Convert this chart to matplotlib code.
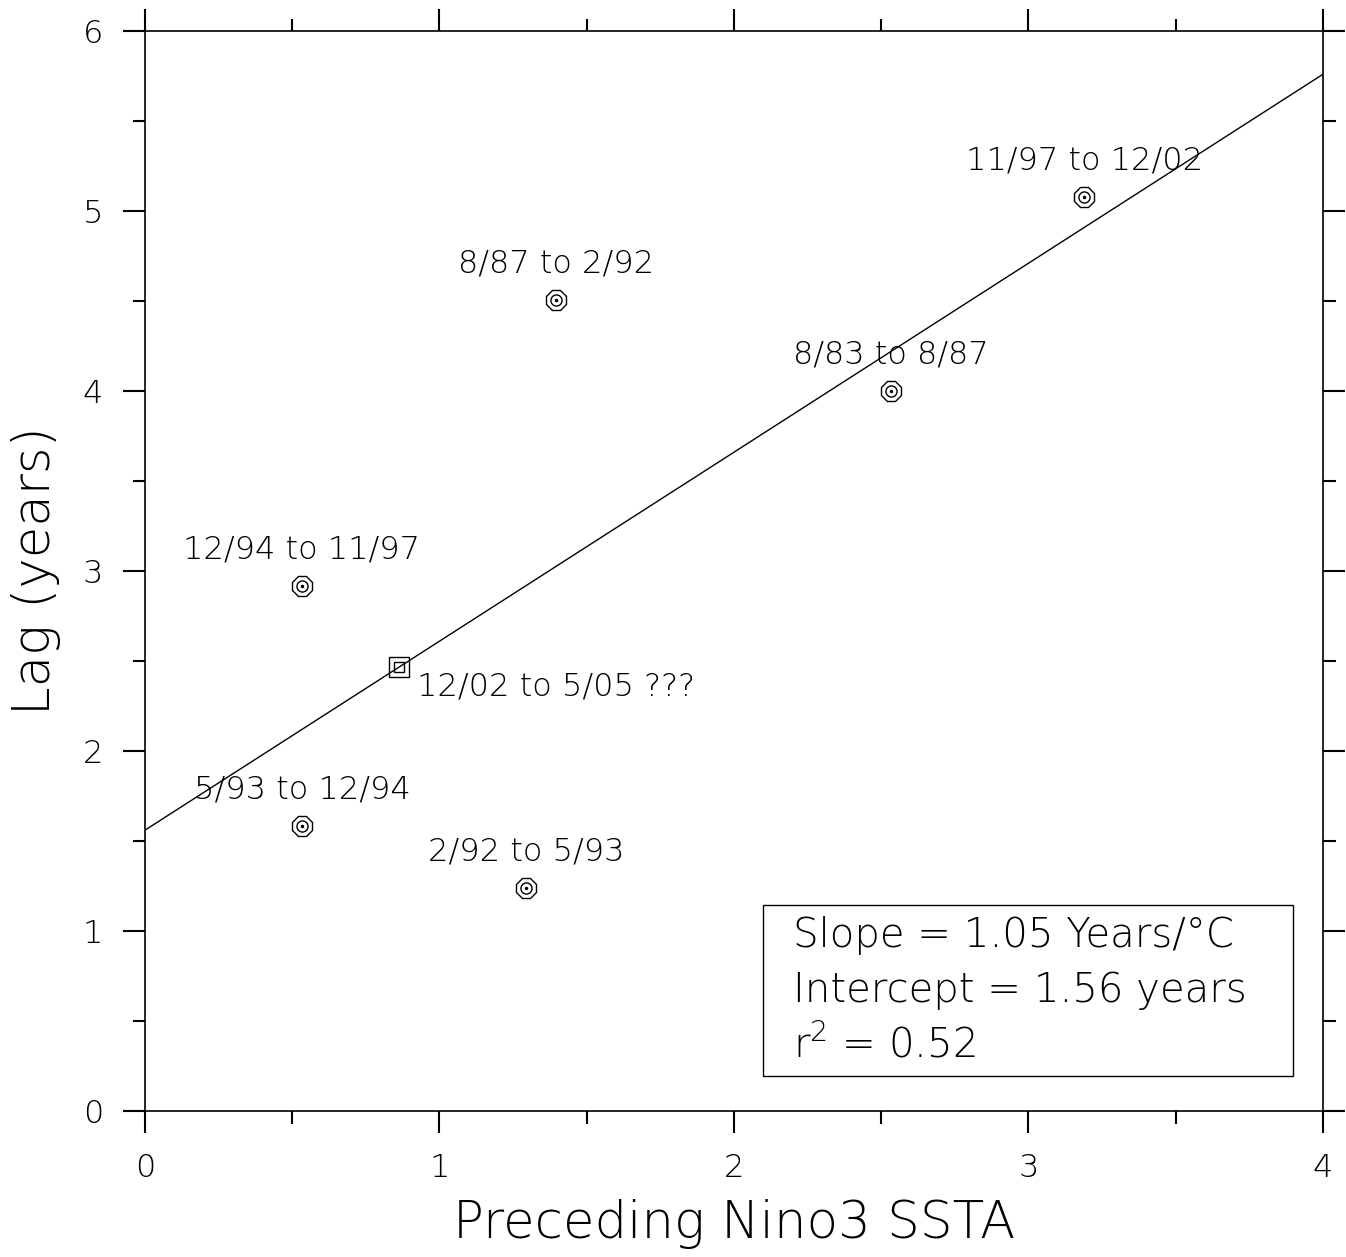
import numpy as np
import matplotlib
matplotlib.use('Agg')
import matplotlib.pyplot as plt
from matplotlib.patches import Rectangle

# Lag vs preceding Nino3 SSTA
periods = ['11/97 to 12/02', '8/87 to 2/92', '8/83 to 8/87', '12/94 to 11/97',
           '5/93 to 12/94', '2/92 to 5/93']
ssta = [3.19, 1.395, 2.533, 0.533, 0.533, 1.294]
lag = [5.08, 4.506, 4.0, 2.917, 1.583, 1.239]

# predicted point
pred_label = '12/02 to 5/05 ???'
pred_ssta = [0.862]
pred_lag = [2.467]

slope = 1.05
intercept = 1.56
r2 = 0.52

plt.rcParams['font.family'] = ['DejaVu Sans']
plt.rcParams['font.weight'] = 'light'
plt.rcParams['axes.labelweight'] = 'light'

fig = plt.figure(figsize=(13.46, 12.57), dpi=100)
ax = fig.add_axes([0.1077, 0.1162, 0.8752, 0.8591])

# regression line
xl = np.array([0, 4])
ax.plot(xl, intercept + slope * xl, color='k', lw=1.0)

# points: octagon + inner circle + dot
ax.plot(ssta, lag, ls='none', marker='8', ms=15, mfc='none', mec='k', mew=1.0)
ax.plot(ssta, lag, ls='none', marker='o', ms=8, mfc='none', mec='k', mew=1.0)
ax.plot(ssta, lag, ls='none', marker='o', ms=1.5, mfc='k', mec='k')

ax.plot(pred_ssta, pred_lag, ls='none', marker='s', ms=14, mfc='none', mec='k', mew=1.0)
ax.plot(pred_ssta, pred_lag, ls='none', marker='s', ms=7, mfc='none', mec='k', mew=1.0)

for p, x, y in zip(periods, ssta, lag):
    ax.annotate(p, (x, y), xytext=(0, 26), textcoords='offset points',
                ha='center', va='center', fontsize=23)
ax.annotate(pred_label, (pred_ssta[0], pred_lag[0]), xytext=(13, -14),
            textcoords='offset points', ha='left', va='center', fontsize=23)

# stats box
ax.add_patch(Rectangle((0.5246, 0.0324), 0.45, 0.1583, transform=ax.transAxes,
                       fc='white', ec='k', lw=1.0, zorder=3))
stats = ['Slope = %.2f Years/\u00b0C' % slope,
         'Intercept = %.2f years' % intercept,
         'r$^2$ = %.2f' % r2]
for k, s in enumerate(stats):
    ax.text(0.550, 0.162 - k * 0.0505, s, transform=ax.transAxes, ha='left',
            va='center', fontsize=29, zorder=4)

ax.set_xlim(0, 4)
ax.set_ylim(0, 6)
ax.set_xticks([0, 1, 2, 3, 4])
ax.set_xticks([0.5, 1.5, 2.5, 3.5], minor=True)
ax.set_yticks([0, 1, 2, 3, 4, 5, 6])
ax.set_yticks(np.arange(0.5, 6, 1.0), minor=True)
ax.tick_params(which='both', direction='out', top=True, right=True, width=1.5,
               labelsize=23, pad=14)
ax.tick_params(which='major', length=16)
ax.tick_params(which='minor', length=9)
ax.tick_params(axis='x', labeltop=False)
for s in ax.spines.values():
    s.set_linewidth(1.2)

ax.set_xlabel('Preceding Nino3 SSTA', fontsize=37, fontweight='light', labelpad=12)
ax.set_ylabel('Lag (years)', fontsize=37, fontweight='light', labelpad=16)

fig.savefig('out.png', dpi=100)
